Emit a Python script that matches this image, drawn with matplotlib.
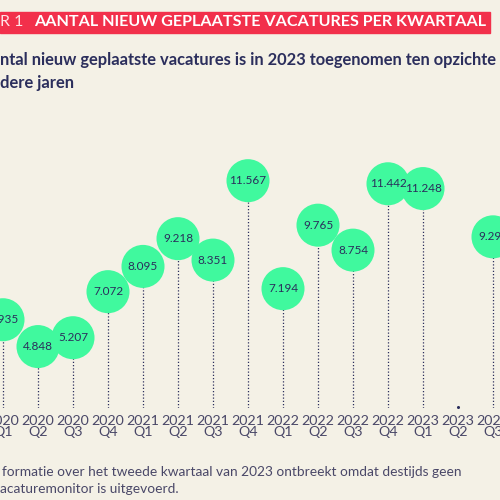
import matplotlib
matplotlib.use("Agg")
import matplotlib.pyplot as plt
import matplotlib.transforms as mtransforms
import numpy as np

years = ["2020", "2020", "2020", "2020", "2021", "2021", "2021", "2021",
         "2022", "2022", "2022", "2022", "2023", "2023", "2023"]
quarters = ["Q1", "Q2", "Q3", "Q4", "Q1", "Q2", "Q3", "Q4",
            "Q1", "Q2", "Q3", "Q4", "Q1", "Q2", "Q3"]
values = [5.935, 4.848, 5.207, 7.072, 8.095, 9.218, 8.351, 11.567,
          7.194, 9.765, 8.754, 11.442, 11.248, None, 9.293]
value_labels = ["5.935", "4.848", "5.207", "7.072", "8.095", "9.218", "8.351", "11.567",
                "7.194", "9.765", "8.754", "11.442", "11.248", "", "9.293"]

BG = "#F4F1E6"
GREEN = "#40F99E"
NAVY = "#2B2E5C"
RED = "#F2304B"
GREY = "#4A4868"

fig = plt.figure(figsize=(5, 5), dpi=100, facecolor=BG)
ax = fig.add_axes([0, 0.184, 1, 0.516], facecolor=BG)

n = len(years)
x = np.arange(n)
ax.set_xlim(-3 / 35, (n - 1) + 7 / 35)
ybot, ytop = 2.36, 12.81
ax.set_ylim(ybot, ytop)

for xi, v, lab in zip(x, values, value_labels):
    if v is None:
        trans = mtransforms.blended_transform_factory(ax.transData, ax.transAxes)
        ax.plot([xi], [0.005], marker="o", ms=1.2, color=NAVY, transform=trans,
                clip_on=False)
        continue
    ax.vlines(xi, ybot, v, colors=NAVY, linestyles=(0, (1, 1.6)), linewidth=0.9,
              zorder=1)
    ax.scatter([xi], [v], s=960, color=GREEN, zorder=2, edgecolors="none",
               clip_on=False)
    ax.text(xi, v, lab, ha="center", va="center", fontsize=8.5, color=NAVY,
            zorder=3, family="Lato", clip_on=False)

ax.set_xticks(x)
ax.set_xticklabels([f"{y}\n{q}" for y, q in zip(years, quarters)],
                   fontsize=10.3, color=GREY, family="Lato", linespacing=0.95)
ax.tick_params(axis="x", length=0, pad=5)
ax.set_yticks([])
for s in ax.spines.values():
    s.set_visible(False)

# header bar
fig.patches.append(plt.Rectangle((0, 1 - 33 / 500), 490 / 500, 21 / 500,
                                 transform=fig.transFigure, color=RED, zorder=0))
fig.text(0.0, 1 - 22.5 / 500, "R 1", fontsize=11.5, color="#FFE3E6", family="Lato",
         va="center", ha="left")
fig.text(34 / 500, 1 - 22.5 / 500, "AANTAL NIEUW GEPLAATSTE VACATURES PER KWARTAAL",
         fontsize=11.6, color="white", family="Lato", weight="bold",
         va="center", ha="left")

# subtitle
fig.text(0.0, 1 - 60 / 500, "ntal nieuw geplaatste vacatures is in 2023 toegenomen ten opzichte",
         fontsize=11.9, color=NAVY, family="Lato", weight="bold", va="center", ha="left")
fig.text(0.0, 1 - 83 / 500, "dere jaren",
         fontsize=11.9, color=NAVY, family="Lato", weight="bold", va="center", ha="left")

# footnote
fig.text(0.004, 1 - 472 / 500,
         "formatie over het tweede kwartaal van 2023 ontbreekt omdat destijds geen",
         fontsize=9.9, color=GREY, family="Lato", va="center", ha="left")
fig.text(0.0, 1 - 489 / 500, "acaturemonitor is uitgevoerd.",
         fontsize=9.9, color=GREY, family="Lato", va="center", ha="left")

fig.savefig("out.png", dpi=100, facecolor=BG)
